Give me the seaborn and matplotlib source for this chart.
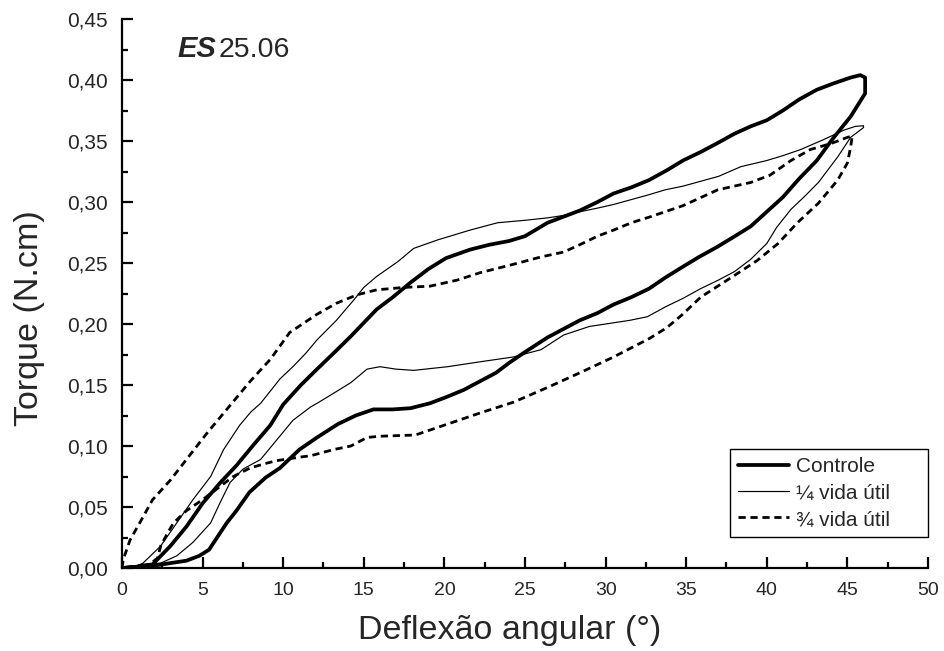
import numpy as np
import pandas as pd
import matplotlib
matplotlib.use("Agg")
import matplotlib.pyplot as plt
from matplotlib.ticker import MultipleLocator, FuncFormatter
import seaborn as sns

# Controle: carga (ramo superior) e descarga (ramo inferior)
controle_carga_x = [0, 1.0, 1.9, 3.0, 4.0, 5.0, 6.1, 7.1, 8.1, 9.2, 10.0, 11.1, 12.1, 13.2,
                    14.2, 15.0, 15.8, 16.8, 17.9, 19.0, 20.1, 21.6, 22.8, 24.0, 25.0, 26.4,
                    27.4, 28.4, 29.5, 30.5, 31.6, 32.7, 33.8, 34.8, 35.9, 36.9, 38.0, 39.0,
                    40.0, 41.0, 42.0, 43.1, 44.1, 45.2, 45.8, 46.1]
controle_carga_y = [0, 0.001, 0.003, 0.018, 0.034, 0.053, 0.070, 0.084, 0.100, 0.117, 0.134,
                    0.150, 0.163, 0.177, 0.190, 0.201, 0.212, 0.222, 0.234, 0.245, 0.254,
                    0.261, 0.265, 0.268, 0.272, 0.283, 0.288, 0.293, 0.300, 0.307, 0.312,
                    0.318, 0.326, 0.334, 0.341, 0.348, 0.356, 0.362, 0.367, 0.375, 0.384,
                    0.392, 0.397, 0.402, 0.404, 0.402]
controle_descarga_x = [46.1, 45.2, 44.1, 43.1, 42.0, 41.0, 40.0, 39.0, 37.9, 36.9, 35.8, 34.8,
                       33.7, 32.7, 31.6, 30.5, 29.5, 28.4, 27.4, 26.4, 25.0, 24.0, 23.2, 22.2,
                       21.2, 20.1, 19.1, 17.9, 16.8, 15.6, 14.5, 13.4, 12.1, 11.0, 9.8, 8.9,
                       7.9, 7.1, 6.5, 6.0, 5.4, 4.8, 4.0, 3.0, 2.0, 1.0, 0]
controle_descarga_y = [0.389, 0.370, 0.352, 0.334, 0.319, 0.304, 0.292, 0.280, 0.271, 0.263,
                       0.255, 0.247, 0.238, 0.229, 0.222, 0.216, 0.209, 0.203, 0.196, 0.189,
                       0.177, 0.168, 0.160, 0.153, 0.146, 0.140, 0.135, 0.131, 0.130, 0.130,
                       0.125, 0.118, 0.107, 0.097, 0.082, 0.074, 0.062, 0.047, 0.037, 0.027,
                       0.015, 0.010, 0.006, 0.004, 0.002, 0.001, 0]

# 1/4 da vida útil
quarto_carga_x = [0, 0.8, 1.3, 2.4, 3.4, 4.4, 5.5, 6.3, 7.3, 8.0, 8.6, 9.8, 10.6, 11.4, 12.1,
                  13.3, 14.4, 15.0, 15.8, 17.1, 18.1, 19.6, 21.6, 23.3, 25.0, 26.4, 27.4,
                  28.4, 29.5, 30.5, 31.6, 32.7, 33.7, 34.8, 35.9, 37.0, 38.4, 40.0, 41.0,
                  42.1, 43.5, 44.8, 45.5, 46.0]
quarto_carga_y = [0, 0.001, 0.004, 0.018, 0.037, 0.056, 0.075, 0.097, 0.117, 0.128, 0.135,
                  0.155, 0.165, 0.176, 0.187, 0.203, 0.220, 0.230, 0.239, 0.251, 0.262,
                  0.269, 0.277, 0.283, 0.285, 0.287, 0.289, 0.292, 0.295, 0.298, 0.302,
                  0.306, 0.310, 0.313, 0.317, 0.321, 0.329, 0.334, 0.338, 0.343, 0.351,
                  0.359, 0.362, 0.3625]
quarto_descarga_x = [46.0, 45.6, 45.2, 44.4, 43.2, 42.3, 41.5, 40.6, 40.0, 39.0, 38.0, 37.0,
                     35.9, 34.8, 33.7, 32.6, 31.5, 30.5, 29.0, 27.4, 26.0, 24.3, 22.2, 20.2,
                     18.1, 17.0, 16.0, 15.2, 14.2, 13.1, 12.1, 11.7, 10.6, 9.6, 8.6, 7.5,
                     6.7, 6.1, 5.5, 4.4, 3.4, 2.4, 1.3, 0]
quarto_descarga_y = [0.361, 0.357, 0.353, 0.337, 0.316, 0.304, 0.294, 0.279, 0.266, 0.253,
                     0.243, 0.236, 0.229, 0.221, 0.214, 0.206, 0.203, 0.201, 0.198, 0.191,
                     0.179, 0.173, 0.169, 0.165, 0.162, 0.163, 0.165, 0.163, 0.152, 0.143,
                     0.135, 0.132, 0.121, 0.105, 0.089, 0.081, 0.070, 0.054, 0.037, 0.021,
                     0.010, 0.004, 0.003, 0]

# 3/4 da vida útil
tres_quartos_carga_x = [0, 0.08, 0.5, 1.1, 1.9, 3.0, 4.0, 5.3, 6.5, 7.95, 9.2, 10.4, 12.1,
                        13.3, 14.6, 15.8, 17.5, 19.1, 20.8, 22.2, 24.3, 26.0, 27.4, 28.4,
                        29.5, 30.5, 31.6, 32.8, 34.8, 36.96, 39.0, 40.2, 41.5, 42.7, 44.0,
                        45.0, 45.3]
tres_quartos_carga_y = [0, 0.007, 0.023, 0.037, 0.056, 0.072, 0.089, 0.111, 0.130, 0.153,
                        0.171, 0.193, 0.208, 0.217, 0.224, 0.228, 0.230, 0.231, 0.236, 0.242,
                        0.249, 0.255, 0.259, 0.265, 0.272, 0.277, 0.283, 0.288, 0.297, 0.310,
                        0.316, 0.322, 0.334, 0.343, 0.348, 0.353, 0.354]
tres_quartos_descarga_x = [45.3, 45.2, 45.0, 44.4, 43.2, 41.9, 40.7, 39.4, 37.9, 35.9, 34.7,
                           33.8, 32.7, 30.5, 28.4, 26.4, 24.3, 22.2, 20.2, 18.2, 16.0, 15.2,
                           14.2, 13.1, 11.7, 11.1, 9.6, 9.0, 7.95, 6.9, 6.1, 5.0, 4.0, 3.2,
                           2.8, 2.4, 2.2, 1.7, 1.0, 0]
tres_quartos_descarga_y = [0.354, 0.345, 0.332, 0.318, 0.299, 0.283, 0.266, 0.252, 0.239,
                           0.222, 0.207, 0.197, 0.188, 0.173, 0.160, 0.148, 0.136, 0.127,
                           0.118, 0.109, 0.108, 0.107, 0.100, 0.097, 0.092, 0.091, 0.088,
                           0.086, 0.082, 0.075, 0.067, 0.056, 0.047, 0.037, 0.028, 0.018,
                           0.008, 0.003, 0.001, 0]

rotulos = ["Controle", "\u00bc vida \u00fatil", "\u00be vida \u00fatil"]
x_ticks = [0, 5, 10, 15, 20, 25, 30, 35, 40, 45, 50]
y_ticks = [0.00, 0.05, 0.10, 0.15, 0.20, 0.25, 0.30, 0.35, 0.40, 0.45]

sns.set_style("ticks")
plt.rcParams["font.family"] = ["Liberation Sans", "DejaVu Sans"]

series = [
    (controle_carga_x, controle_carga_y, controle_descarga_x, controle_descarga_y),
    (quarto_carga_x, quarto_carga_y, quarto_descarga_x, quarto_descarga_y),
    (tres_quartos_carga_x, tres_quartos_carga_y, tres_quartos_descarga_x, tres_quartos_descarga_y),
]
estilos = [
    dict(linewidth=2.7, linestyle="-"),
    dict(linewidth=0.85, linestyle="-"),
    dict(linewidth=2.0, linestyle=(0, (2.6, 1.7))),
]

fig = plt.figure(figsize=(9.45, 6.51), dpi=100)
ax = fig.add_axes([122 / 945, 1 - 568 / 651, 806 / 945, 549 / 651])

for (cx, cy, dx, dy), rotulo, estilo in zip(series, rotulos, estilos):
    df = pd.DataFrame({"deflexao": list(cx) + list(dx), "torque": list(cy) + list(dy)})
    sns.lineplot(data=df, x="deflexao", y="torque", sort=False, estimator=None,
                 color="black", label=rotulo, ax=ax, solid_joinstyle="round",
                 dash_joinstyle="round", **estilo)

ax.set_xlim(x_ticks[0], x_ticks[-1])
ax.set_ylim(y_ticks[0], y_ticks[-1])
ax.set_xticks(x_ticks)
ax.set_yticks(y_ticks)
ax.xaxis.set_minor_locator(MultipleLocator(2.5))
ax.yaxis.set_minor_locator(MultipleLocator(0.025))
ax.yaxis.set_major_formatter(FuncFormatter(lambda v, p: f"{v:.2f}".replace(".", ",")))
ax.xaxis.set_major_formatter(FuncFormatter(lambda v, p: f"{v:.0f}"))

for s in ["top", "right"]:
    ax.spines[s].set_visible(False)
for s in ["left", "bottom"]:
    ax.spines[s].set_linewidth(1.6)
    ax.spines[s].set_color("black")

ax.tick_params(which="major", direction="in", length=8, width=1.6, color="black", pad=10)
ax.tick_params(which="minor", direction="in", length=4.5, width=1.6, color="black")
ax.tick_params(axis="x", which="major", labelsize=14)
ax.tick_params(axis="y", which="major", labelsize=15)

ax.set_xlabel("Deflex\u00e3o angular (\u00b0)", fontsize=24.5)
ax.set_ylabel("Torque (N.cm)", fontsize=24.5)
ax.xaxis.set_label_coords(0.4814, -0.0856)
ax.yaxis.set_label_coords(-0.0955, 0.4554)

ax.text(3.46, 0.419, "ES", fontsize=21, fontweight="bold", fontstyle="italic",
        ha="left", va="baseline")
ax.text(6.0, 0.419, "25.06", fontsize=20.5, ha="left", va="baseline")

leg = ax.legend(loc="lower left", bbox_to_anchor=(0.7543, 0.0565, 0.2457, 0.1),
                mode="expand", borderaxespad=0, fontsize=15, frameon=True,
                fancybox=False, shadow=False, handlelength=2.45, handletextpad=0.33,
                labelspacing=0.35, borderpad=0.4)
leg.get_frame().set_edgecolor("black")
leg.get_frame().set_linewidth(1.0)
leg.get_frame().set_facecolor("white")
leg.get_frame().set_alpha(1)

fig.savefig("out.png", dpi=100, facecolor="white")
